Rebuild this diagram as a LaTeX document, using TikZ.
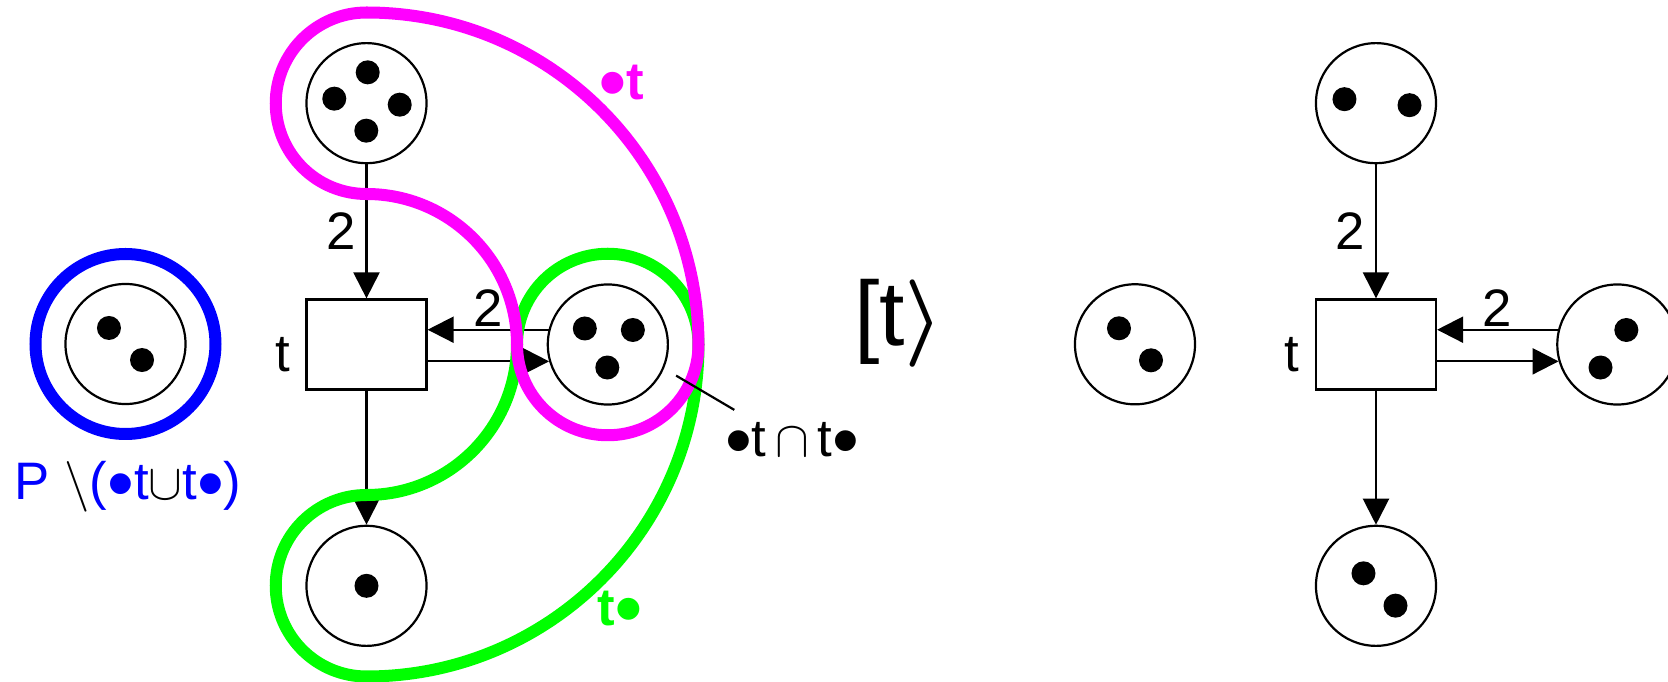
\documentclass[tikz,border=0pt]{standalone}
\usepackage{fontspec}
\setmainfont{Liberation Sans}
\usepackage{graphicx}
\usetikzlibrary{arrows.meta,positioning}

\definecolor{setmag}{RGB}{255,0,255}
\definecolor{setgrn}{RGB}{0,255,0}
\definecolor{setblu}{RGB}{0,0,255}

\newcommand{\dotmark}{\raisebox{-0.18em}{\scalebox{1.45}{•}}}

\tikzstyle{place} = [circle, draw, line width=0.022cm, minimum size=1.2cm, inner sep=0pt]
\tikzstyle{transition} = [rectangle, draw, line width=0.022cm, minimum width=1.2cm, minimum height=0.9cm, inner sep=0pt]
\tikzstyle{token} = [circle, fill, minimum size=0.24cm, inner sep=0pt]
\tikzstyle{flow} = [line width=0.022cm, -{Triangle[length=0.26cm,width=0.26cm]}]
\tikzstyle{lbl} = [font=\fontsize{15pt}{18pt}\selectfont]
\tikzstyle{weight} = [lbl, inner sep=0.02cm]
\tikzstyle{setlbl} = [font=\fontsize{15pt}{18pt}\selectfont\bfseries]
\tikzstyle{setline} = [line width=0.12cm, line join=round]

\begin{document}
\begin{tikzpicture}[x=0.01cm, y=0.01cm]
\useasboundingbox (0,0) rectangle (1668,-682);
\clip (0,0) rectangle (1668,-682);

% left net
\node[transition, label={[lbl, label distance=0.03cm, yshift=-0.1cm]left:t}] (t1) at (366.5,-344.5) {};
\node[place] (p1) [above=1.34cm of t1] {};
\node[place] (p2) [right=1.19cm of t1] {};
\node[place] (p3) [below=1.34cm of t1] {};
\node[token, xshift=0.012cm, yshift=0.308cm] (p1a) at (p1) {};
\node[token, xshift=-0.322cm, yshift=0.045cm] (p1b) at (p1) {};
\node[token, xshift=0.332cm, yshift=-0.015cm] (p1c) at (p1) {};
\node[token, xshift=-0.002cm, yshift=-0.275cm] (p1d) at (p1) {};
\node[token, xshift=-0.23cm, yshift=0.16cm] (p2a) at (p2) {};
\node[token, xshift=0.25cm, yshift=0.145cm] (p2b) at (p2) {};
\node[token, xshift=-0.005cm, yshift=-0.23cm] (p2c) at (p2) {};
\node[token] (p3a) at (p3) {};

\draw[flow] (p1) -- node[weight, left=0.08cm] {2} (t1);
\draw[flow] (p2.166) -- node[weight, above] {2} (p2.166 -| t1.east);
\draw[flow] (t1.east |- p2.196) -- (p2.196);
\draw[flow] (t1) -- (p3);

% pre- and post-sets
\draw[setline, setgrn] (t1.center) ++(0,-332)
    arc[start angle=270, end angle=90, radius=90.75]
    arc[start angle=270, end angle=360, radius=150.5]
    arc[start angle=180, end angle=0, radius=90.75]
    arc[start angle=0, end angle=-90, radius=332] -- cycle;
\draw[setline, setmag] (t1.center) ++(0,332)
    arc[start angle=90, end angle=270, radius=90.75]
    arc[start angle=90, end angle=0, radius=150.5]
    arc[start angle=180, end angle=360, radius=90.75]
    arc[start angle=0, end angle=90, radius=332] -- cycle;

\node[setlbl, text=setmag] (pre) at (621.5,-87) {\dotmark t};
\node[setlbl, text=setgrn] (post) at (620,-613) {t\dotmark};

\coordinate (ptr) at ([shift={(-24.5:0.75cm)}]p2.center);
\node[lbl, inner sep=0pt, anchor=base west] (inter) at (724.3,-456.7) {\dotmark t\,$\cap$\,t\dotmark};
\draw[line width=0.022cm] (ptr) -- ([shift={(0.1cm,0.12cm)}]inter.north west);

% untouched place
\node[place] (p0) at (125.5,-344) {};
\node[token, xshift=-0.165cm, yshift=0.16cm] (p0a) at (p0) {};
\node[token, xshift=0.165cm, yshift=-0.16cm] (p0b) at (p0) {};
\draw[setline, setblu] (p0.center) circle[radius=90];
\node[lbl, text=setblu] (rest) at (128,-487) {P\ {\color{black}$\setminus$}(\dotmark t{\color{black}$\cup$}t\dotmark)};

% firing
\node[font=\fontsize{26pt}{30pt}\selectfont] (fire) at (899,-323) {[t{\boldmath$\rangle$}};

% right net
\node[place] (q0) at (1135,-344.3) {};
\node[token, xshift=-0.16cm, yshift=0.16cm] (q0a) at (q0) {};
\node[token, xshift=0.16cm, yshift=-0.16cm] (q0b) at (q0) {};

\node[transition, label={[lbl, label distance=0.03cm, yshift=-0.1cm]left:t}] (u1) at (1376,-344.5) {};
\node[place] (r1) [above=1.34cm of u1] {};
\node[place] (r2) [right=1.19cm of u1] {};
\node[place] (r3) [below=1.34cm of u1] {};
\node[token, xshift=-0.315cm, yshift=0.04cm] (r1a) at (r1) {};
\node[token, xshift=0.335cm, yshift=-0.02cm] (r1b) at (r1) {};
\node[token, xshift=0.09cm, yshift=0.145cm] (r2a) at (r2) {};
\node[token, xshift=-0.168cm, yshift=-0.23cm] (r2b) at (r2) {};
\node[token, xshift=-0.125cm, yshift=0.125cm] (r3a) at (r3) {};
\node[token, xshift=0.195cm, yshift=-0.198cm] (r3b) at (r3) {};

\draw[flow] (r1) -- node[weight, left=0.08cm] {2} (u1);
\draw[flow] (r2.166) -- node[weight, above] {2} (r2.166 -| u1.east);
\draw[flow] (u1.east |- r2.196) -- (r2.196);
\draw[flow] (u1) -- (r3);
\end{tikzpicture}
\end{document}
